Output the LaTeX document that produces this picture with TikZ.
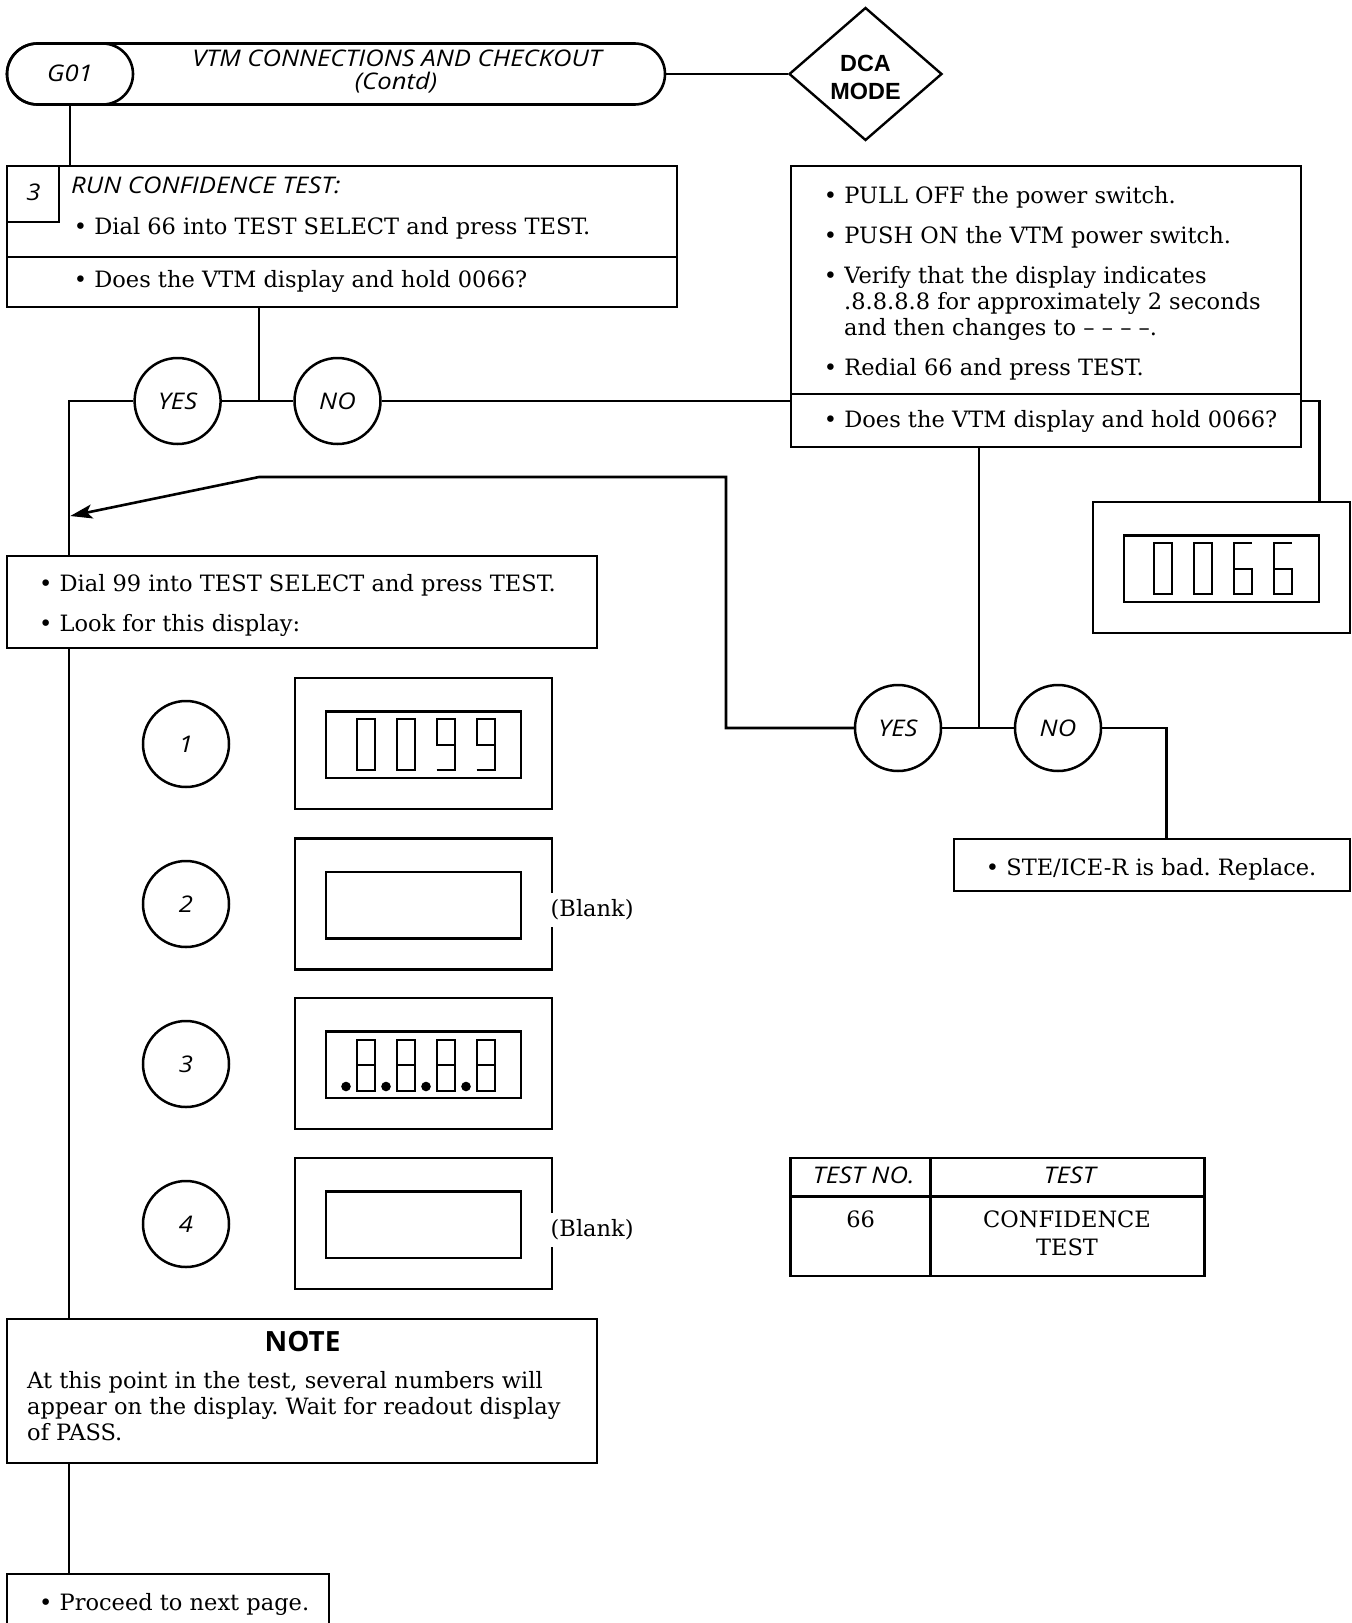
\documentclass[tikz,border=0pt]{standalone}
\usepackage{fontspec}
\setmainfont{DejaVu Serif}
\newfontfamily\osans{Open Sans}[FakeStretch=1.12]
\newfontfamily\osansb{Open Sans}
\newfontfamily\helv{Liberation Sans}
\usetikzlibrary{shapes.geometric,shapes.misc,arrows.meta}
\frenchspacing
\newcommand\bodyfont{\fontsize{22.6}{26.3}\selectfont}
\newcommand\sfitfont{\osans\itshape\fontsize{23}{25}\selectfont}
\newcommand\lcdbox[3]{%
  \node[box,minimum width=257bp,minimum height=131bp] (#1) at (#2,#3) {};
  \node[draw,line width=2.3bp,inner sep=0pt,outer sep=0pt,minimum width=195bp,minimum height=66.5bp] (#1in) at (#2,#3+1.3) {};}
\begin{document}
\begin{tikzpicture}[x=1bp,y=-1bp,
  line/.style={line width=2.6bp},
  box/.style={draw,line width=2.6bp,inner sep=0pt,outer sep=0pt},
  ring/.style={draw,circle,line width=2.5bp,minimum size=86bp,inner sep=0pt,font=\sfitfont},
  seg/.style={line width=2bp},
  txt/.style={inner sep=0pt,anchor=base west,font=\bodyfont},
  sft/.style={inner sep=0pt,font=\sfitfont},
  dzero/.pic={\draw[seg] (0,0) rectangle (18,51);},
  dsix/.pic={\draw[seg] (18,0) -- (0,0) -- (0,51) -- (18,51) -- (18,25.5) -- (0,25.5);},
  dnine/.pic={\draw[seg] (0,51) -- (18,51) -- (18,0) -- (0,0) -- (0,25.5) -- (18,25.5);},
  deight/.pic={\draw[seg] (0,0) rectangle (18,51) (0,25.5) -- (18,25.5);},
]
\useasboundingbox (0,0) rectangle (1352,1623);

% ---------- header ----------
\node[box,rounded rectangle,minimum width=658bp,minimum height=61bp] (title) at (336,74) {};
\node[box,rounded rectangle,minimum width=126bp,minimum height=61bp] (g01) at (70,74) {};
\node[sft] (g01t) at (70,73.5) {G01};
\node[sft,anchor=base] (tt1) at (397,66.7) {VTM CONNECTIONS AND CHECKOUT};
\node[sft,anchor=base] (tt2) at (396,89) {(Contd)};
\node[draw,diamond,line width=2.4bp,minimum width=153bp,minimum height=133bp,inner sep=0pt] (dca) at (865.5,74) {};
\node[inner sep=0pt,align=center,font={\helv\bfseries\fontsize{23.5}{28}\selectfont}] (dcat) at (865.5,77) {DCA\\MODE};
\draw[line] (title.east) -- (dca.west);

% ---------- step 3 box ----------
\node[box,minimum width=670bp,minimum height=141bp] (step3) at (342,236.5) {};
\coordinate (d1) at (0,257);
\draw[line] (step3.west |- d1) -- (step3.east |- d1);
\node[box,minimum width=52bp,minimum height=56bp] (numbox) at (33,194) {};
\node[sft] (n3) at (33.5,192.5) {3};
\node[sft,anchor=base west] (runct) at (71,193.3) {RUN CONFIDENCE TEST:};
\node[txt] (s3a) at (73.7,234.5) {\textbullet\ Dial 66 into TEST SELECT and press TEST.};
\node[txt] (s3b) at (73.7,287) {\textbullet\ Does the VTM display and hold 0066?};
\draw[line] (g01.south) -- (step3.north -| g01.south);

% ---------- right box ----------
\node[box,minimum width=510bp,minimum height=281bp] (rbox) at (1046,306.5) {};
\coordinate (d2) at (0,394);
\draw[line] (rbox.west |- d2) -- (rbox.east |- d2);
\node[txt] (r1) at (823.7,203.3) {\textbullet\ PULL OFF the power switch.};
\node[txt] (r2) at (823.7,243.3) {\textbullet\ PUSH ON the VTM power switch.};
\node[txt] (r3) at (823.7,283.5) {\textbullet\ Verify that the display indicates};
\node[txt] (r3b) at (844,309.5) {.8.8.8.8 for approximately 2 seconds};
\node[txt] (r3c) at (844,335.5) {and then changes to \textendash\ \textendash\ \textendash\ \textendash.};
\node[txt] (r4) at (823.7,375) {\textbullet\ Redial 66 and press TEST.};
\node[txt] (r5) at (823.7,427.3) {\textbullet\ Does the VTM display and hold 0066?};

% ---------- first YES / NO ----------
\node[ring] (yes1) at (177.6,401) {YES};
\node[ring] (no1) at (337.5,401) {NO};
\coordinate (jA) at (259,401);
\draw[line] (step3.south -| jA) -- (jA);
\draw[line] (yes1) -- (no1);
\draw[line] (no1) -- (rbox.west |- no1);
\coordinate (rA) at (1319.5,401);

% ---------- 0066 display ----------
\lcdbox{disp66}{1221.5}{567.5}
\pic at (1153.7,543.3) {dzero};
\pic at (1193.7,543.3) {dzero};
\pic at (1233.7,543.3) {dsix};
\pic at (1273.7,543.3) {dsix};
\draw[line] (rbox.east |- no1) -- (rA) -- (disp66.north -| rA);

% ---------- second YES / NO ----------
\node[ring] (yes2) at (898,728) {YES};
\node[ring] (no2) at (1058,728) {NO};
\coordinate (jB) at (979,728);
\draw[line] (rbox.south -| jB) -- (jB);
\draw[line] (yes2) -- (no2);
\node[box,minimum width=396bp,minimum height=52bp] (ste) at (1152,865) {};
\node[txt] (stet) at (985.7,875) {\textbullet\ STE/ICE-R is bad. Replace.};
\coordinate (nA) at (1166.7,728);
\draw[line] (no2) -- (nA) -- (ste.north -| nA);

% ---------- left column ----------
\node[box,minimum width=590bp,minimum height=92bp] (dial99) at (302,602) {};
\node[txt] (dl1) at (39,591.7) {\textbullet\ Dial 99 into TEST SELECT and press TEST.};
\node[txt] (dl2) at (39,631.7) {\textbullet\ Look for this display:};
\coordinate (lA) at (69,401);
\draw[line] (yes1) -- (lA) -- (dial99.north -| lA);
\coordinate (bA) at (726,728);
\coordinate (bB) at (726,477);
\coordinate (bC) at (259,477);
\coordinate (bD) at (70.3,516);
\draw[line,-{Stealth[length=22bp,width=14bp,inset=5bp]}] (yes2) -- (bA) -- (bB) -- (bC) -- (bD);

% display 1
\node[ring] (c1) at (186,744) {1};
\lcdbox{lcd1}{423.3}{743.5}
\pic at (356.7,719.3) {dzero};
\pic at (396.7,719.3) {dzero};
\pic at (436.7,719.3) {dnine};
\pic at (476.7,719.3) {dnine};
% display 2
\node[ring] (c2) at (186,904) {2};
\lcdbox{lcd2}{423.3}{903.8}
\node[txt,fill=white,inner xsep=1.5bp,inner ysep=7bp] (bl2) at (549,916.7) {(Blank)};
% display 3
\node[ring] (c3) at (186,1064) {3};
\lcdbox{lcd3}{423.3}{1063.5}
\foreach \k in {0,1,2,3}{
  \pic at (356.7+40*\k,1039.5) {deight};
  \fill (346+40*\k,1086.5) circle (4.8);
}
% display 4
\node[ring] (c4) at (186,1224) {4};
\lcdbox{lcd4}{423.3}{1223.5}
\node[txt,fill=white,inner xsep=1.5bp,inner ysep=7bp] (bl4) at (549,1236.7) {(Blank)};

% ---------- note ----------
\node[box,minimum width=590bp,minimum height=144bp] (note) at (302,1391) {};
\node[inner sep=0pt,anchor=base,font={\osansb\bfseries\fontsize{28}{30}\selectfont}] (notet) at (302.5,1351.7) {NOTE};
\node[txt] (nt1) at (27,1388.3) {At this point in the test, several numbers will};
\node[txt] (nt2) at (27,1414.6) {appear on the display. Wait for readout display};
\node[txt] (nt3) at (27,1440.9) {of PASS.};
\draw[line] (dial99.south -| lA) -- (note.north -| lA);

% ---------- bottom ----------
\node[box,minimum width=322bp,minimum height=80bp] (proceed) at (168,1614) {};
\node[txt] (pr) at (39,1610.7) {\textbullet\ Proceed to next page.};
\draw[line] (note.south -| lA) -- (proceed.north -| lA);

% ---------- table ----------
\node[box,minimum width=413.6bp,minimum height=117.7bp] (tbl) at (997.5,1217) {};
\coordinate (tc) at (930.7,1196.7);
\draw[line] (tbl.north -| tc) -- (tbl.south -| tc);
\draw[line] (tbl.west |- tc) -- (tbl.east |- tc);
\node[sft,anchor=base] (th1) at (863.7,1183.3) {TEST NO.};
\node[sft,anchor=base] (th2) at (1069.8,1183.3) {TEST};
\node[txt,anchor=base] (td1) at (860.7,1227.3) {66};
\node[txt,anchor=base] (td2) at (1067,1227.3) {CONFIDENCE};
\node[txt,anchor=base] (td3) at (1067,1255) {TEST};
\end{tikzpicture}
\end{document}
